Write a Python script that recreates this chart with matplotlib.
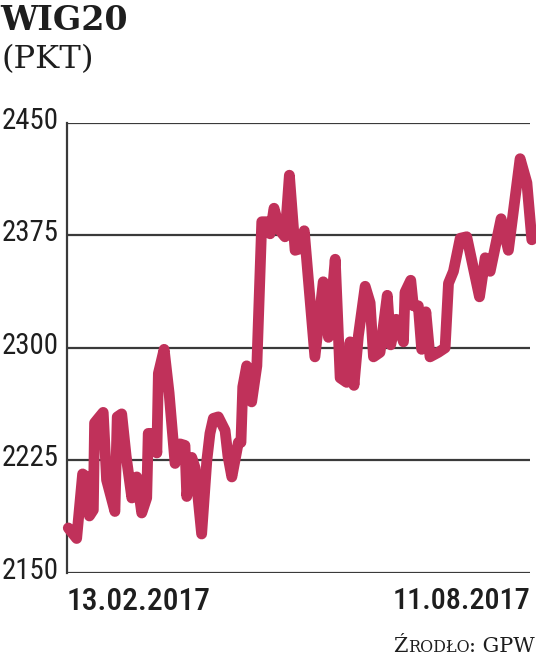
import matplotlib
matplotlib.use("Agg")  # no display

import matplotlib.pyplot as plt
from matplotlib import font_manager as fm

# WIG20 close, days counted from 13.02.2017
days = [0.5, 3.7, 6.0, 7.6, 8.6, 10.1, 10.6, 12.0, 13.9, 15.2, 18.4, 19.3,
        21.0, 22.7, 24.9, 26.8, 28.7, 30.6, 31.2, 33.8, 34.5, 35.1, 37.3,
        39.2, 41.5, 43.4, 45.3, 46.0, 47.9, 49.2, 51.7, 53.7, 54.9, 56.2,
        58.1, 60.7, 61.8, 63.3, 65.8, 66.8, 67.5, 69.0, 70.9, 72.9, 74.8,
        76.7, 78.0, 79.5, 81.8, 83.7, 85.4, 87.6, 89.5, 91.1, 95.2, 98.4,
        100.4, 103.0, 104.9, 107.4, 108.7, 110.2, 111.9, 114.5, 116.4,
        117.7, 120.2, 123.0, 124.3, 126.4, 129.2, 129.8, 132.0, 133.0,
        134.9, 136.2, 137.8, 139.4, 142.6, 145.2, 146.5, 148.4, 151.0,
        153.5, 158.4, 160.6, 162.5, 166.7, 169.5, 174.0, 176.6, 178.5]
values = [2180, 2173, 2216, 2214, 2188, 2192, 2250, 2253, 2257, 2212, 2191,
          2254, 2256, 2228, 2200, 2214, 2190, 2200, 2243, 2243, 2230, 2283,
          2299, 2270, 2223, 2236, 2235, 2201, 2227, 2220, 2176, 2225, 2243,
          2253, 2254, 2245, 2228, 2214, 2237, 2237, 2274, 2288, 2264, 2288,
          2384, 2384, 2376, 2393, 2378, 2374, 2415, 2365, 2366, 2378, 2294,
          2344, 2307, 2359, 2280, 2277, 2304, 2275, 2308, 2341, 2330, 2294,
          2297, 2335, 2302, 2319, 2304, 2337, 2345, 2328, 2328, 2299, 2324,
          2294, 2297, 2300, 2343, 2351, 2373, 2374, 2334, 2360, 2351, 2386,
          2365, 2426, 2410, 2372]

yticks = [2150, 2225, 2300, 2375, 2450]
date_labels = ["13.02.2017", "11.08.2017"]

LINE_COLOR = "#c0315a"
GRID_COLOR = "#3a3a3a"
TEXT_COLOR = "#1e1e1e"
SERIF = "DejaVu Serif"

# pick a narrow sans if one is installed
names = {f.name for f in fm.fontManager.ttflist}
NARROW = "DejaVu Sans"
STRETCH = "normal"
for cand in ["Roboto Condensed", "Liberation Sans Narrow", "Open Sans Condensed",
             "Noto Sans Condensed", "DejaVu Sans Condensed"]:
    if cand in names:
        NARROW = cand
        break
else:
    if any(f.name == "DejaVu Sans" and f.stretch == "condensed"
           for f in fm.fontManager.ttflist):
        STRETCH = "condensed"

fig = plt.figure(figsize=(5.36, 6.55), dpi=100)
W, H = 536, 655
ax = fig.add_axes([67 / W, 1 - 573 / H, (530 - 67) / W, (573 - 122.7) / H])
renderer = fig.canvas.get_renderer()


def fit_width(txt, width_px):
    w = txt.get_window_extent(renderer).width
    txt.set_fontsize(txt.get_fontsize() * width_px / w)


ax.plot(days, values, color=LINE_COLOR, lw=7.8, solid_joinstyle="round",
        solid_capstyle="round", clip_on=False, zorder=3)

ax.set_xlim(0, 177.8)
ax.set_ylim(2150, 2450)
ax.set_xticks([])
ax.set_yticks(yticks)
ax.set_yticklabels([])
ax.tick_params(axis="y", length=0)
for t in yticks:
    ax.axhline(t, color=GRID_COLOR, lw=1.6, zorder=1)
    lab = ax.annotate(str(t), (0, t), xycoords=("axes fraction", "data"),
                      xytext=(-8, 2), textcoords="offset pixels",
                      ha="right", va="center", fontsize=20, color=TEXT_COLOR,
                      fontfamily=NARROW, fontstretch=STRETCH)
    fit_width(lab, 57)

for s in ["top", "right", "bottom"]:
    ax.spines[s].set_visible(False)
ax.spines["left"].set_color(GRID_COLOR)
ax.spines["left"].set_linewidth(1.6)

# date labels under the axis
d0 = ax.text(0, -0.032, date_labels[0], transform=ax.transAxes, ha="left",
             va="top", fontfamily=NARROW, fontstretch=STRETCH, fontsize=20,
             fontweight="medium", color=TEXT_COLOR)
fit_width(d0, 144)
d1 = ax.text(1.0, -0.032, date_labels[1], transform=ax.transAxes, ha="right",
             va="top", fontfamily=NARROW, fontstretch=STRETCH, fontsize=20,
             fontweight="medium", color=TEXT_COLOR)
fit_width(d1, 138)

title = fig.text(0.0, 1 - 4 / H, "WIG20", ha="left", va="top", fontfamily=SERIF,
                 fontsize=24, fontweight="bold", color=TEXT_COLOR)
fit_width(title, 128)
unit = fig.text(2 / W, 1 - 44 / H, "(PKT)", ha="left", va="top",
                fontfamily=SERIF, fontsize=22, color=TEXT_COLOR)
fit_width(unit, 92)

# source line in small caps, built from pieces placed right to left
pieces = [("Ź", 15), ("RODŁO", 11.5), (": GPW", 15)]
x = W - 1
for txt, size in reversed(pieces):
    t = fig.text(x / W, 1 - 652 / H, txt, ha="right", va="baseline",
                 fontfamily=SERIF, fontsize=size, color=TEXT_COLOR)
    x -= t.get_window_extent(renderer).width

fig.savefig("out.png", dpi=100, facecolor="white")
